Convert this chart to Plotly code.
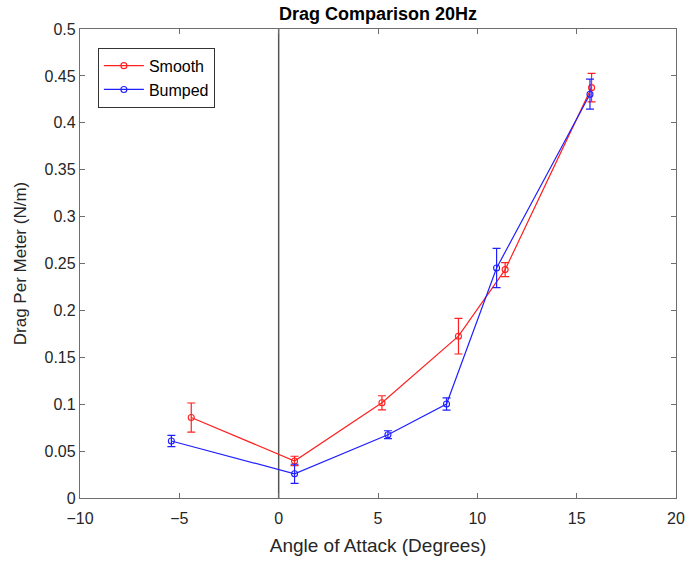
import plotly.graph_objects as go

# Angle of attack (degrees) and drag per meter (N/m) with error bars
smooth_aoa = [-4.4, 0.8, 5.2, 9.05, 11.4, 15.75]
smooth_drag = [0.0858, 0.0395, 0.1015, 0.1725, 0.2435, 0.4375]
smooth_err = [0.0155, 0.005, 0.0075, 0.019, 0.0075, 0.0152]

bumped_aoa = [-5.4, 0.8, 5.5, 8.45, 10.97, 15.67]
bumped_drag = [0.0608, 0.0258, 0.0675, 0.1002, 0.2452, 0.4305]
bumped_err = [0.006, 0.0102, 0.0042, 0.0065, 0.021, 0.016]

x_ticks = [-10, -5, 0, 5, 10, 15, 20]
y_ticks = [0, 0.05, 0.1, 0.15, 0.2, 0.25, 0.3, 0.35, 0.4, 0.45, 0.5]

FONT = "Liberation Sans, Arial, sans-serif"
AXIS_COLOR = "#6e6e6e"


def series(x, y, err, name, color):
    return go.Scatter(
        x=x, y=y, name=name, mode="lines+markers",
        line=dict(color=color, width=1.2),
        marker=dict(symbol="circle-open", size=6, color=color, line=dict(width=1.1)),
        error_y=dict(type="data", array=err, visible=True, color=color,
                     thickness=1.2, width=4),
    )


fig = go.Figure()
fig.add_trace(series(smooth_aoa, smooth_drag, smooth_err, "Smooth", "#ff2020"))
fig.add_trace(series(bumped_aoa, bumped_drag, bumped_err, "Bumped", "#2020ff"))

# Vertical reference line at zero angle of attack
fig.add_shape(type="line", xref="x", yref="paper", x0=0, x1=0, y0=0, y1=1,
              line=dict(color="#555555", width=1.5), layer="below")

axis_common = dict(
    showline=True, linecolor=AXIS_COLOR, linewidth=1.3, mirror="ticks",
    ticks="inside", ticklen=5, tickwidth=1, tickcolor=AXIS_COLOR,
    showgrid=False, zeroline=False, automargin=False,
    tickfont=dict(family=FONT, size=16, color="#262626"),
)

fig.update_layout(
    width=686, height=561,
    margin=dict(l=80, r=10, t=29, b=63),
    paper_bgcolor="white", plot_bgcolor="white",
    title=dict(text="<b>Drag Comparison 20Hz</b>", x=(80 + 676) / 2 / 686,
               xanchor="center", y=1 - 14 / 561, yanchor="middle",
               font=dict(family=FONT, size=18, color="#000000")),
    xaxis=dict(range=[-10, 20], tickvals=x_ticks, ticklabelstandoff=6,
               title=dict(text="Angle of Attack (Degrees)", standoff=12,
                          font=dict(family=FONT, size=19, color="#262626")),
               **axis_common),
    yaxis=dict(range=[0, 0.5], tickvals=y_ticks,
               title=dict(text="Drag Per Meter (N/m)", standoff=13,
                          font=dict(family=FONT, size=17, color="#262626")),
               **axis_common),
    legend=dict(x=0.03, y=0.96, xanchor="left", yanchor="top",
                bgcolor="white", bordercolor="#333333", borderwidth=1,
                font=dict(family=FONT, size=16, color="#000000"),
                itemwidth=40, tracegroupgap=0),
    showlegend=True,
)

fig.write_html("out.html")
